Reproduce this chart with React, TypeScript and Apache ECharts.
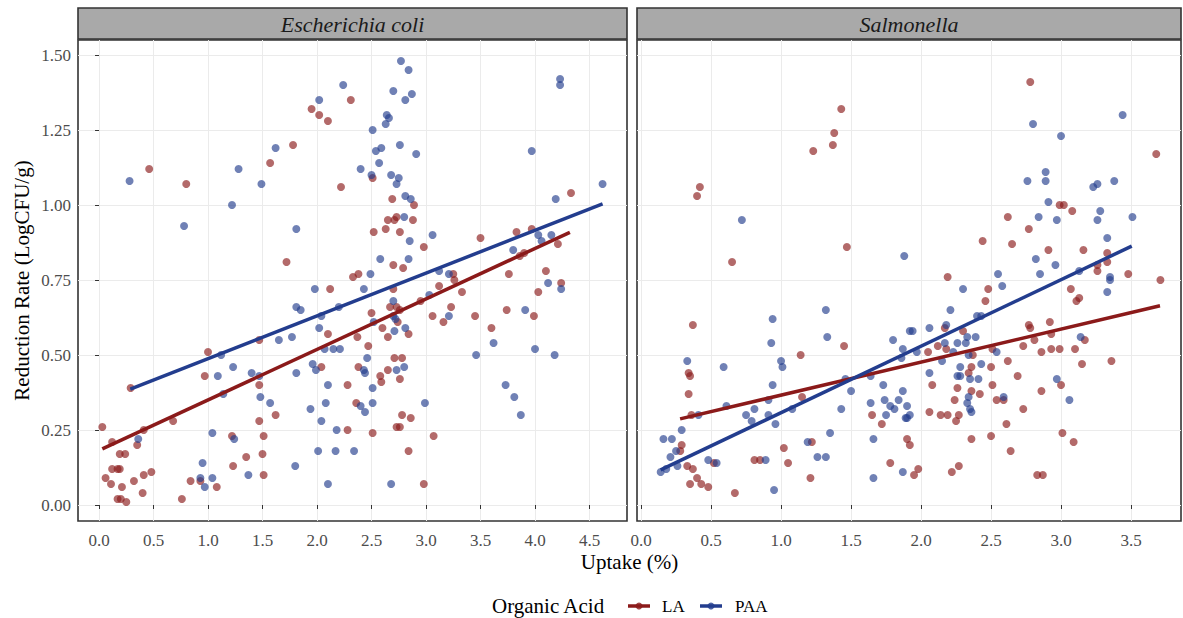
import { useEffect, useRef } from "react";
import * as echarts from "echarts";

const facetTitles = ["Escherichia coli", "Salmonella"];
const groupNames = ["LA", "PAA"];
const yTicks = [0, 0.25, 0.5, 0.75, 1.0, 1.25, 1.5];
const ecoliXTicks = [0, 0.5, 1.0, 1.5, 2.0, 2.5, 3.0, 3.5, 4.0, 4.5];
const salXTicks = [0, 0.5, 1.0, 1.5, 2.0, 2.5, 3.0, 3.5];

const ecoliLA: number[][] = [
  [0.46, 1.12], [0.8, 1.07], [1.57, 1.14], [1.78, 1.2], [1.72, 0.81], [1.95, 1.32], [2.02, 1.3], [2.1, 1.28],
  [2.31, 1.35], [2.22, 1.06], [2.38, 0.77], [2.33, 0.76], [2.51, 1.09], [2.69, 1.02], [2.89, 1.0], [2.73, 0.96],
  [2.71, 0.95], [2.65, 0.95], [2.88, 0.95], [2.52, 0.91], [2.63, 0.92], [2.76, 0.91], [2.98, 0.86], [2.7, 0.8],
  [2.79, 0.79], [3.5, 0.89], [3.83, 0.91], [3.97, 0.92], [4.21, 0.87], [3.86, 0.83], [3.9, 0.84], [4.33, 1.04],
  [4.1, 0.78], [3.76, 0.77], [3.25, 0.77], [2.12, 0.72], [2.1, 0.57], [1.47, 0.55], [2.37, 0.56], [1.0, 0.51],
  [0.97, 0.43], [2.04, 0.46], [2.38, 0.46], [2.28, 0.4], [1.47, 0.4], [0.29, 0.39], [1.62, 0.3], [2.36, 0.34],
  [2.28, 0.25], [1.47, 0.28], [0.68, 0.28], [0.03, 0.26], [0.12, 0.21], [0.41, 0.25], [0.35, 0.2], [0.19, 0.17],
  [0.24, 0.17], [0.12, 0.12], [0.17, 0.12], [0.19, 0.12], [0.06, 0.09], [0.11, 0.07], [0.21, 0.06], [0.32, 0.08],
  [0.41, 0.1], [0.48, 0.11], [0.4, 0.04], [0.17, 0.02], [0.2, 0.02], [0.25, 0.01], [0.76, 0.02], [0.84, 0.08],
  [0.93, 0.08], [1.08, 0.06], [1.22, 0.23], [1.35, 0.16], [1.23, 0.13], [1.51, 0.23], [1.5, 0.17], [1.51, 0.1],
  [3.26, 0.75], [3.12, 0.73], [3.33, 0.71], [2.7, 0.72], [2.95, 0.68], [2.67, 0.66], [2.73, 0.66], [2.76, 0.65],
  [3.23, 0.66], [2.5, 0.64], [2.74, 0.61], [3.06, 0.63], [3.16, 0.61], [3.45, 0.63], [3.74, 0.65], [3.6, 0.59],
  [3.99, 0.63], [4.24, 0.74], [4.03, 0.71], [2.6, 0.59], [2.65, 0.56], [2.84, 0.57], [2.47, 0.53], [2.71, 0.49],
  [2.78, 0.49], [2.65, 0.45], [2.58, 0.43], [2.59, 0.41], [2.76, 0.42], [2.78, 0.3], [2.86, 0.29], [2.73, 0.26],
  [2.76, 0.26], [3.07, 0.23], [2.51, 0.24], [2.84, 0.18], [2.98, 0.07]
];

const ecoliPAA: number[][] = [
  [0.28, 1.08], [0.78, 0.93], [1.28, 1.12], [1.22, 1.0], [1.49, 1.07], [1.62, 1.19], [1.81, 0.92], [2.02, 1.35],
  [2.24, 1.4], [2.4, 1.12], [2.77, 1.48], [2.84, 1.45], [2.7, 1.38], [2.87, 1.37], [2.81, 1.35], [2.64, 1.3],
  [2.66, 1.29], [2.63, 1.27], [2.51, 1.25], [2.59, 1.19], [2.54, 1.18], [2.76, 1.2], [2.91, 1.17], [2.57, 1.14],
  [2.5, 1.1], [2.68, 1.1], [2.75, 1.09], [2.73, 1.07], [2.81, 1.03], [2.86, 1.02], [2.8, 0.96], [2.85, 0.88],
  [3.06, 0.9], [2.58, 0.82], [2.84, 0.82], [2.49, 0.77], [4.03, 0.9], [4.06, 0.88], [4.15, 0.9], [3.8, 0.85],
  [4.19, 1.02], [4.62, 1.07], [3.97, 1.18], [4.23, 1.42], [4.23, 1.4], [3.12, 0.78], [3.21, 0.77], [1.98, 0.72],
  [1.81, 0.66], [1.85, 0.65], [2.2, 0.66], [2.04, 0.63], [2.02, 0.59], [1.77, 0.56], [1.65, 0.55], [2.07, 0.52],
  [2.15, 0.52], [2.21, 0.52], [1.12, 0.5], [1.23, 0.46], [1.09, 0.43], [1.4, 0.44], [1.47, 0.43], [1.81, 0.44],
  [1.96, 0.47], [1.99, 0.45], [2.1, 0.4], [1.14, 0.37], [1.48, 0.36], [1.57, 0.34], [1.94, 0.32], [2.08, 0.34],
  [2.04, 0.28], [2.18, 0.25], [0.36, 0.22], [0.95, 0.14], [0.93, 0.09], [0.97, 0.06], [1.04, 0.09], [1.04, 0.24],
  [1.24, 0.22], [1.37, 0.1], [1.8, 0.13], [2.01, 0.18], [2.17, 0.18], [2.34, 0.18], [2.1, 0.07], [2.43, 0.72],
  [3.03, 0.7], [2.7, 0.68], [2.7, 0.63], [2.72, 0.62], [2.52, 0.61], [3.21, 0.63], [3.62, 0.54], [3.91, 0.65],
  [4.12, 0.74], [4.24, 0.72], [4.0, 0.52], [4.18, 0.5], [3.46, 0.5], [3.73, 0.4], [3.81, 0.36], [3.87, 0.3],
  [2.71, 0.58], [2.81, 0.59], [2.46, 0.49], [2.43, 0.45], [2.44, 0.44], [2.73, 0.45], [2.8, 0.46], [2.51, 0.39],
  [2.4, 0.33], [2.44, 0.31], [2.51, 0.34], [2.99, 0.34], [2.68, 0.07]
];

const salLA: number[][] = [
  [1.43, 1.32], [1.38, 1.24], [1.37, 1.2], [1.23, 1.18], [0.42, 1.06], [0.4, 1.03], [0.65, 0.81], [1.47, 0.86],
  [2.78, 1.41], [3.68, 1.17], [2.99, 1.0], [3.02, 1.0], [3.08, 0.98], [2.62, 0.96], [2.77, 0.92], [2.44, 0.88],
  [2.65, 0.87], [2.91, 0.85], [3.16, 0.85], [3.33, 0.84], [3.33, 0.81], [3.26, 0.8], [3.26, 0.78], [2.19, 0.76],
  [3.48, 0.77], [3.71, 0.75], [0.37, 0.6], [1.45, 0.53], [1.14, 0.5], [0.34, 0.44], [0.35, 0.43], [0.34, 0.37],
  [0.36, 0.3], [1.15, 0.36], [1.22, 0.21], [0.29, 0.2], [0.28, 0.18], [1.02, 0.19], [1.05, 0.14], [1.21, 0.09],
  [0.81, 0.15], [0.85, 0.15], [0.52, 0.14], [0.67, 0.04], [0.33, 0.13], [0.37, 0.12], [0.4, 0.09], [0.35, 0.07],
  [0.43, 0.07], [0.48, 0.06], [1.65, 0.3], [1.72, 0.27], [1.9, 0.22], [1.92, 0.2], [1.78, 0.14], [2.48, 0.72],
  [2.46, 0.68], [2.17, 0.59], [2.3, 0.58], [2.12, 0.53], [2.05, 0.51], [2.18, 0.52], [2.37, 0.5], [2.51, 0.52],
  [2.62, 0.48], [2.5, 0.46], [2.36, 0.46], [2.34, 0.44], [2.69, 0.43], [2.08, 0.4], [2.26, 0.39], [2.36, 0.38],
  [2.51, 0.4], [2.42, 0.37], [2.24, 0.35], [2.54, 0.35], [2.59, 0.35], [2.06, 0.31], [2.14, 0.3], [2.19, 0.3],
  [2.27, 0.3], [2.25, 0.28], [2.73, 0.32], [2.86, 0.38], [2.61, 0.27], [2.5, 0.23], [2.36, 0.22], [2.64, 0.18],
  [1.98, 0.12], [1.95, 0.1], [2.22, 0.11], [2.27, 0.13], [2.83, 0.1], [2.87, 0.1], [3.01, 0.24], [3.09, 0.21],
  [3.0, 0.4], [3.15, 0.47], [3.36, 0.48], [3.17, 0.55], [2.73, 0.53], [2.81, 0.55], [2.77, 0.6], [2.78, 0.59],
  [2.92, 0.61], [2.93, 0.57], [2.86, 0.51], [2.93, 0.52], [2.99, 0.52], [3.1, 0.52], [3.07, 0.72], [3.13, 0.69],
  [3.11, 0.68]
];

const salPAA: number[][] = [
  [0.72, 0.95], [1.88, 0.83], [3.44, 1.3], [2.8, 1.27], [3.0, 1.23], [2.89, 1.11], [2.76, 1.08], [2.89, 1.08],
  [3.23, 1.06], [3.26, 1.07], [3.38, 1.08], [2.91, 1.01], [3.28, 0.98], [3.26, 0.95], [3.51, 0.96], [2.84, 0.96],
  [2.97, 0.95], [3.33, 0.89], [2.82, 0.82], [2.96, 0.8], [2.55, 0.77], [2.85, 0.77], [3.35, 0.76], [0.94, 0.62],
  [0.93, 0.54], [1.32, 0.65], [1.33, 0.56], [1.0, 0.48], [1.01, 0.46], [0.33, 0.48], [0.59, 0.46], [0.94, 0.4],
  [0.61, 0.33], [0.41, 0.3], [0.81, 0.32], [0.75, 0.3], [0.79, 0.28], [0.91, 0.35], [0.91, 0.3], [0.96, 0.27],
  [1.08, 0.32], [1.43, 0.32], [1.46, 0.42], [1.5, 0.38], [1.35, 0.24], [1.19, 0.21], [1.26, 0.16], [1.32, 0.16],
  [0.95, 0.05], [0.89, 0.15], [0.48, 0.15], [0.54, 0.14], [0.16, 0.22], [0.22, 0.22], [0.29, 0.25], [0.25, 0.18],
  [0.21, 0.16], [0.26, 0.13], [0.18, 0.12], [0.14, 0.11], [1.64, 0.43], [1.73, 0.4], [1.74, 0.35], [1.64, 0.34],
  [1.78, 0.33], [1.81, 0.32], [1.84, 0.35], [1.87, 0.38], [1.9, 0.33], [1.75, 0.3], [1.66, 0.22], [1.87, 0.11],
  [1.66, 0.09], [1.8, 0.55], [1.87, 0.52], [1.86, 0.49], [1.92, 0.58], [1.9, 0.29], [2.3, 0.72], [2.58, 0.73],
  [2.21, 0.65], [2.4, 0.63], [2.43, 0.63], [1.94, 0.58], [2.06, 0.59], [2.18, 0.6], [2.33, 0.56], [2.39, 0.56],
  [2.17, 0.54], [2.26, 0.54], [2.32, 0.54], [1.97, 0.51], [2.23, 0.51], [2.34, 0.5], [2.54, 0.51], [2.15, 0.48],
  [2.43, 0.47], [2.28, 0.46], [2.26, 0.43], [2.28, 0.43], [2.35, 0.42], [2.41, 0.42], [2.06, 0.44], [2.34, 0.36],
  [2.33, 0.34], [2.35, 0.32], [2.36, 0.31], [2.59, 0.36], [1.92, 0.3], [1.89, 0.29], [2.97, 0.42], [3.06, 0.35],
  [3.14, 0.56], [3.13, 0.78], [3.35, 0.75], [3.33, 0.71]
];

// fitted regression line endpoints
const ecoliLAFit = [[0.03, 0.187], [4.32, 0.909]];
const ecoliPAAFit = [[0.287, 0.386], [4.62, 1.004]];
const salLAFit = [[0.279, 0.287], [3.707, 0.664]];
const salPAAFit = [[0.14, 0.117], [3.505, 0.863]];

const LA_COLOR = "#8B1A1A";
const PAA_COLOR = "#233D8E";
const FONT = "'Liberation Serif', 'Times New Roman', serif";

export default function App() {
  const ref = useRef<HTMLDivElement>(null);
  useEffect(() => {
    if (!ref.current) return;
    const chart = echarts.init(ref.current, null, { renderer: "svg" });

    const grids = [
      { left: 78, top: 40, width: 549, height: 481 },
      { left: 637, top: 40, width: 544, height: 481 },
    ];
    const xRanges = [
      [-0.193, 4.844],
      [-0.029, 3.857],
    ];
    const xTickSets = [ecoliXTicks, salXTicks];

    const xAxes = [0, 1].map((i) => ({
      type: "value",
      gridIndex: i,
      min: xRanges[i][0],
      max: xRanges[i][1],
      axisLine: { show: false },
      axisTick: {
        show: true,
        customValues: xTickSets[i],
        length: 4,
        lineStyle: { color: "#333333", width: 1 },
      },
      axisLabel: {
        show: true,
        customValues: xTickSets[i],
        formatter: (v: number) => v.toFixed(1),
        color: "#4D4D4D",
        fontFamily: FONT,
        fontSize: 17,
        margin: 11,
      },
      splitLine: { show: true, lineStyle: { color: "#EBEBEB", width: 1 } },
    }));

    const yAxes = [0, 1].map((i) => ({
      type: "value",
      gridIndex: i,
      min: -0.0533,
      max: 1.55,
      axisLine: { show: false },
      axisTick: {
        show: i === 0,
        customValues: yTicks,
        length: 4,
        lineStyle: { color: "#333333", width: 1 },
      },
      axisLabel: {
        show: i === 0,
        customValues: yTicks,
        formatter: (v: number) => v.toFixed(2),
        color: "#4D4D4D",
        fontFamily: FONT,
        fontSize: 17,
        margin: 7,
      },
      splitLine: { show: true, lineStyle: { color: "#EBEBEB", width: 1 } },
    }));

    const scatter = (name: string, data: number[][], idx: number, color: string) => ({
      name,
      type: "scatter",
      xAxisIndex: idx,
      yAxisIndex: idx,
      data,
      symbol: "circle",
      symbolSize: 8,
      itemStyle: { color, opacity: 0.65 },
      z: 2,
    });
    const fit = (name: string, data: number[][], idx: number, color: string) => ({
      name,
      type: "line",
      xAxisIndex: idx,
      yAxisIndex: idx,
      data,
      showSymbol: false,
      symbol: "none",
      lineStyle: { color, width: 3.5 },
      z: 5,
    });

    const strip = (x: number, w: number, label: string) => [
      {
        type: "rect",
        shape: { x, y: 8, width: w, height: 31 },
        style: { fill: "#A9A9A9", stroke: "#333333", lineWidth: 1.6 },
        z: 10,
      },
      {
        type: "text",
        x: x + w / 2,
        y: 24,
        style: {
          text: label,
          fontFamily: FONT,
          fontStyle: "italic",
          fontSize: 22,
          fill: "#1A1A1A",
          align: "center",
          verticalAlign: "middle",
        },
        z: 11,
      },
    ];

    const legendKey = (x: number, color: string) => [
      {
        type: "line",
        shape: { x1: x, y1: 606, x2: x + 22, y2: 606 },
        style: { stroke: color, lineWidth: 3.5 },
      },
      {
        type: "circle",
        shape: { cx: x + 11, cy: 606, r: 3.5 },
        style: { fill: color, opacity: 0.8 },
      },
    ];

    chart.setOption({
      animation: false,
      backgroundColor: "#FFFFFF",
      grid: grids.map((g) => ({
        ...g,
        show: true,
        borderColor: "#333333",
        borderWidth: 1.6,
        backgroundColor: "transparent",
      })),
      xAxis: xAxes,
      yAxis: yAxes,
      series: [
        scatter(groupNames[0], ecoliLA, 0, LA_COLOR),
        scatter(groupNames[1], ecoliPAA, 0, PAA_COLOR),
        scatter(groupNames[0], salLA, 1, LA_COLOR),
        scatter(groupNames[1], salPAA, 1, PAA_COLOR),
        fit(groupNames[0], ecoliLAFit, 0, LA_COLOR),
        fit(groupNames[1], ecoliPAAFit, 0, PAA_COLOR),
        fit(groupNames[0], salLAFit, 1, LA_COLOR),
        fit(groupNames[1], salPAAFit, 1, PAA_COLOR),
      ],
      graphic: [
        ...strip(78, 549, facetTitles[0]),
        ...strip(637, 544, facetTitles[1]),
        {
          type: "text",
          x: 629.5,
          y: 562,
          style: {
            text: "Uptake (%)",
            fontFamily: FONT,
            fontSize: 21,
            fill: "#000000",
            align: "center",
            verticalAlign: "middle",
          },
        },
        {
          type: "text",
          x: 22,
          y: 280.5,
          rotation: Math.PI / 2,
          style: {
            text: "Reduction Rate (LogCFU/g)",
            fontFamily: FONT,
            fontSize: 21,
            fill: "#000000",
            align: "center",
            verticalAlign: "middle",
          },
        },
        {
          type: "text",
          x: 492,
          y: 606,
          style: {
            text: "Organic Acid",
            fontFamily: FONT,
            fontSize: 21,
            fill: "#000000",
            align: "left",
            verticalAlign: "middle",
          },
        },
        ...legendKey(628, LA_COLOR),
        {
          type: "text",
          x: 662,
          y: 606,
          style: {
            text: groupNames[0],
            fontFamily: FONT,
            fontSize: 17,
            fill: "#000000",
            align: "left",
            verticalAlign: "middle",
          },
        },
        ...legendKey(700, PAA_COLOR),
        {
          type: "text",
          x: 735,
          y: 606,
          style: {
            text: groupNames[1],
            fontFamily: FONT,
            fontSize: 17,
            fill: "#000000",
            align: "left",
            verticalAlign: "middle",
          },
        },
      ],
    });
    return () => chart.dispose();
  }, []);
  return (
    <div
      ref={ref}
      style={{ position: "absolute", left: 0, top: 0, width: 1183, height: 618 }}
    />
  );
}
